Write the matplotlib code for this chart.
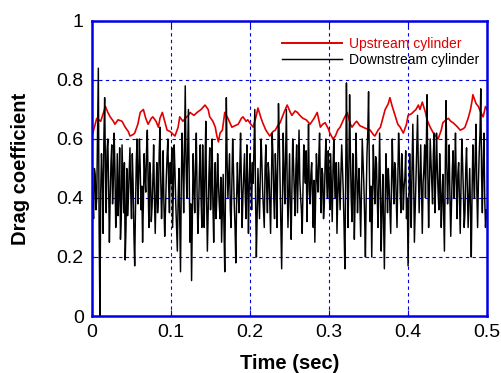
import numpy as np
import matplotlib
matplotlib.use("Agg")
import matplotlib.pyplot as plt

# ---------------------------------------------------------------------------
# Data
# ---------------------------------------------------------------------------

# upstream cylinder: time (s) and drag coefficient
t_up = [0.000, 0.006, 0.011, 0.017, 0.020, 0.023, 0.027, 0.029, 0.033, 0.038,
        0.042, 0.046, 0.048, 0.052, 0.054, 0.058, 0.061, 0.065, 0.068, 0.071,
        0.075, 0.077, 0.081, 0.084, 0.086, 0.089, 0.092, 0.095, 0.099, 0.101,
        0.105, 0.109, 0.111, 0.115, 0.118, 0.122, 0.124, 0.129, 0.133, 0.138,
        0.143, 0.147, 0.149, 0.153, 0.156, 0.158, 0.160, 0.162, 0.165, 0.168,
        0.172, 0.177, 0.181, 0.185, 0.189, 0.191, 0.195, 0.197, 0.201, 0.204,
        0.208, 0.210, 0.214, 0.216, 0.220, 0.225, 0.229, 0.232, 0.235, 0.238,
        0.243, 0.247, 0.251, 0.253, 0.257, 0.260, 0.263, 0.267, 0.271, 0.276,
        0.281, 0.285, 0.289, 0.292, 0.295, 0.299, 0.301, 0.305, 0.308, 0.311,
        0.314, 0.319, 0.323, 0.327, 0.329, 0.333, 0.335, 0.339, 0.343, 0.347,
        0.352, 0.356, 0.358, 0.362, 0.365, 0.368, 0.371, 0.375, 0.377, 0.380,
        0.384, 0.387, 0.390, 0.394, 0.398, 0.400, 0.404, 0.406, 0.410, 0.413,
        0.415, 0.418, 0.422, 0.424, 0.428, 0.432, 0.435, 0.438, 0.442, 0.444,
        0.448, 0.451, 0.454, 0.457, 0.461, 0.466, 0.470, 0.472, 0.476, 0.479,
        0.481, 0.482, 0.486, 0.489, 0.492, 0.495, 0.498, 0.500]
cd_up = [0.61, 0.67, 0.66, 0.71, 0.69, 0.675, 0.66, 0.65, 0.665, 0.66,
         0.64, 0.625, 0.61, 0.615, 0.62, 0.65, 0.69, 0.70, 0.67, 0.65,
         0.67, 0.675, 0.66, 0.64, 0.67, 0.69, 0.66, 0.63, 0.625, 0.62,
         0.61, 0.64, 0.675, 0.66, 0.67, 0.68, 0.69, 0.68, 0.69, 0.70,
         0.715, 0.70, 0.675, 0.66, 0.64, 0.61, 0.59, 0.62, 0.63, 0.69,
         0.67, 0.64, 0.645, 0.65, 0.67, 0.675, 0.66, 0.665, 0.65, 0.64,
         0.68, 0.705, 0.67, 0.655, 0.63, 0.61, 0.625, 0.63, 0.645, 0.655,
         0.69, 0.715, 0.69, 0.68, 0.695, 0.69, 0.68, 0.67, 0.665, 0.65,
         0.67, 0.69, 0.64, 0.65, 0.655, 0.635, 0.62, 0.60, 0.61, 0.63,
         0.64, 0.67, 0.69, 0.65, 0.64, 0.655, 0.66, 0.645, 0.64, 0.635,
         0.63, 0.615, 0.61, 0.63, 0.64, 0.67, 0.70, 0.72, 0.74, 0.71,
         0.675, 0.65, 0.64, 0.62, 0.65, 0.68, 0.685, 0.69, 0.70, 0.715,
         0.70, 0.725, 0.69, 0.665, 0.64, 0.62, 0.61, 0.60, 0.63, 0.655,
         0.665, 0.67, 0.66, 0.655, 0.645, 0.63, 0.635, 0.64, 0.67, 0.70,
         0.73, 0.75, 0.72, 0.71, 0.69, 0.675, 0.71, 0.70]

# downstream cylinder: sampled every 0.001 s from 0 to 0.5 s
t_step = 0.001
cd_down = [
    0.45, 0.38, 0.33, 0.50, 0.48, 0.36, 0.40, 0.62, 0.84, 0.30,
    0.00, 0.42, 0.55, 0.46, 0.28, 0.60, 0.74, 0.50, 0.35, 0.56,
    0.60, 0.44, 0.25, 0.40, 0.52, 0.58, 0.38, 0.46, 0.62, 0.50,
    0.30, 0.37, 0.55, 0.34, 0.42, 0.57, 0.26, 0.33, 0.58, 0.47,
    0.35, 0.52, 0.19, 0.30, 0.50, 0.34, 0.40, 0.48, 0.57, 0.42,
    0.33, 0.55, 0.45, 0.28, 0.17, 0.36, 0.52, 0.60, 0.38, 0.47,
    0.60, 0.50, 0.36, 0.44, 0.25, 0.38, 0.55, 0.47, 0.42, 0.56,
    0.63, 0.45, 0.30, 0.52, 0.48, 0.32, 0.37, 0.46, 0.58, 0.40,
    0.28, 0.41, 0.52, 0.35, 0.40, 0.55, 0.64, 0.46, 0.33, 0.42,
    0.56, 0.38, 0.27, 0.36, 0.47, 0.54, 0.60, 0.44, 0.35, 0.52,
    0.45, 0.57, 0.30, 0.44, 0.58, 0.49, 0.38, 0.30, 0.22, 0.40,
    0.50, 0.32, 0.15, 0.45, 0.62, 0.50, 0.35, 0.58, 0.78, 0.52,
    0.40, 0.55, 0.70, 0.46, 0.25, 0.38, 0.12, 0.34, 0.55, 0.44,
    0.35, 0.52, 0.62, 0.41, 0.28, 0.37, 0.50, 0.58, 0.40, 0.30,
    0.58, 0.45, 0.30, 0.50, 0.66, 0.40, 0.22, 0.35, 0.48, 0.57,
    0.36, 0.44, 0.60, 0.38, 0.25, 0.42, 0.52, 0.33, 0.40, 0.55,
    0.45, 0.38, 0.33, 0.47, 0.25, 0.36, 0.48, 0.30, 0.15, 0.45,
    0.74, 0.52, 0.40, 0.48, 0.55, 0.36, 0.30, 0.46, 0.60, 0.50,
    0.38, 0.30, 0.18, 0.40, 0.52, 0.42, 0.35, 0.50, 0.62, 0.45,
    0.30, 0.41, 0.48, 0.55, 0.40, 0.33, 0.58, 0.47, 0.28, 0.44,
    0.55, 0.47, 0.36, 0.52, 0.45, 0.58, 0.70, 0.40, 0.20, 0.34,
    0.50, 0.42, 0.33, 0.48, 0.60, 0.52, 0.42, 0.36, 0.30, 0.50,
    0.58, 0.44, 0.35, 0.52, 0.48, 0.38, 0.28, 0.46, 0.62, 0.54,
    0.40, 0.33, 0.55, 0.47, 0.30, 0.52, 0.72, 0.60, 0.45, 0.30,
    0.16, 0.40, 0.62, 0.48, 0.38, 0.55, 0.70, 0.45, 0.30, 0.42,
    0.55, 0.37, 0.26, 0.44, 0.60, 0.52, 0.42, 0.34, 0.50, 0.58,
    0.35, 0.50, 0.63, 0.46, 0.40, 0.36, 0.28, 0.44, 0.58, 0.50,
    0.45, 0.56, 0.32, 0.47, 0.65, 0.42, 0.38, 0.48, 0.52, 0.40,
    0.30, 0.46, 0.25, 0.40, 0.55, 0.47, 0.42, 0.54, 0.62, 0.44,
    0.35, 0.50, 0.48, 0.33, 0.38, 0.52, 0.60, 0.46, 0.40, 0.56,
    0.45, 0.36, 0.55, 0.44, 0.32, 0.50, 0.60, 0.46, 0.40, 0.52,
    0.28, 0.40, 0.52, 0.44, 0.36, 0.48, 0.58, 0.50, 0.42, 0.30,
    0.16, 0.45, 0.79, 0.52, 0.30, 0.48, 0.75, 0.55, 0.40, 0.32,
    0.55, 0.46, 0.26, 0.40, 0.62, 0.50, 0.35, 0.44, 0.50, 0.38,
    0.27, 0.42, 0.60, 0.52, 0.45, 0.34, 0.20, 0.40, 0.55, 0.62,
    0.76, 0.50, 0.32, 0.44, 0.20, 0.38, 0.58, 0.47, 0.38, 0.54,
    0.52, 0.40, 0.30, 0.47, 0.62, 0.43, 0.22, 0.36, 0.48, 0.32,
    0.16, 0.38, 0.55, 0.46, 0.35, 0.50, 0.44, 0.36, 0.28, 0.45,
    0.60, 0.48, 0.38, 0.52, 0.50, 0.40, 0.30, 0.45, 0.62, 0.54,
    0.42, 0.35, 0.55, 0.48, 0.36, 0.44, 0.47, 0.56, 0.33, 0.40,
    0.17, 0.38, 0.55, 0.44, 0.30, 0.50, 0.65, 0.48, 0.25, 0.36,
    0.48, 0.57, 0.68, 0.50, 0.35, 0.46, 0.58, 0.42, 0.28, 0.45,
    0.50, 0.58, 0.40, 0.55, 0.75, 0.48, 0.30, 0.44, 0.60, 0.52,
    0.45, 0.38, 0.55, 0.62, 0.35, 0.47, 0.62, 0.50, 0.42, 0.36,
    0.55, 0.44, 0.30, 0.40, 0.48, 0.35, 0.22, 0.46, 0.73, 0.52,
    0.38, 0.47, 0.58, 0.40, 0.27, 0.38, 0.50, 0.56, 0.40, 0.48,
    0.62, 0.45, 0.33, 0.48, 0.52, 0.40, 0.28, 0.44, 0.60, 0.52,
    0.42, 0.30, 0.35, 0.50, 0.57, 0.43, 0.30, 0.40, 0.50, 0.36,
    0.20, 0.42, 0.58, 0.47, 0.40, 0.55, 0.65, 0.43, 0.30, 0.45,
    0.55, 0.62, 0.77, 0.48, 0.35, 0.52, 0.62, 0.40, 0.30, 0.36,
    0.33,
]
t_down = np.arange(len(cd_down)) * t_step

labels = ["Upstream cylinder", "Downstream cylinder"]
x_ticks = [0, 0.1, 0.2, 0.3, 0.4, 0.5]
y_ticks = [0, 0.2, 0.4, 0.6, 0.8, 1]

# ---------------------------------------------------------------------------
# Plot
# ---------------------------------------------------------------------------

plt.rcParams["font.family"] = ["Liberation Sans", "DejaVu Sans"]
blue = "#0000E6"

fig = plt.figure(figsize=(5.02, 3.73), dpi=100)
ax = fig.add_axes([0.1833, 0.1528, 0.787, 0.791])

l_up, = ax.plot(t_up, cd_up, color="#E00000", lw=1.2, label=labels[0])
l_dn, = ax.plot(t_down, cd_down, color="black", lw=1.05, label=labels[1])

ax.set_xlim(0, 0.5)
ax.set_ylim(0, 1)
ax.set_xticks(x_ticks)
ax.set_xticklabels([f"{v:g}" for v in x_ticks])
ax.set_yticks(y_ticks)
ax.set_yticklabels([f"{v:g}" for v in y_ticks])

ax.grid(True, color=blue, lw=0.8, linestyle=(0, (3, 3)))
for sp in ax.spines.values():
    sp.set_color(blue)
    sp.set_linewidth(1.8)
ax.tick_params(which="both", direction="in", top=True, right=True,
               length=4, width=0.8, color=blue, labelsize=14, pad=6)

ax.set_xlabel("Time (sec)", fontsize=14.5, fontweight="bold")
ax.set_ylabel("Drag coefficient", fontsize=14.5, fontweight="bold")
ax.xaxis.set_label_coords(0.5, -0.13)
ax.yaxis.set_label_coords(-0.158, 0.5)

leg = ax.legend(handles=[l_up, l_dn], loc="upper left",
                bbox_to_anchor=(0.481, 0.945), frameon=False, fontsize=10,
                borderpad=0, borderaxespad=0, handlelength=4.3,
                handletextpad=0.55, labelspacing=0.12)
leg.get_texts()[0].set_color("#E00000")
leg.get_lines()[0].set_linewidth(1.4)

fig.savefig("out.png", dpi=100)
